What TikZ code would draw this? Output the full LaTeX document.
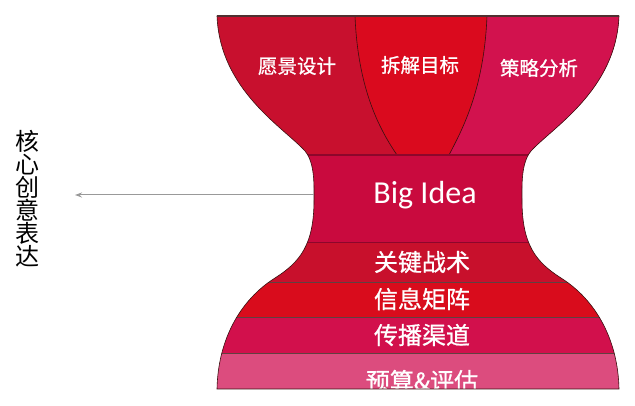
\documentclass[tikz,border=0pt]{standalone}
\usepackage{fontspec}
\setmainfont{Carlito}
\newfontfamily\cjk{Noto Sans CJK SC}
\newfontfamily\cjkb{Noto Sans CJK SC}[FakeBold=0.8]
\usetikzlibrary{arrows.meta}
\definecolor{lobeL}{HTML}{C8102E}
\definecolor{lobeM}{HTML}{DA0A1E}
\definecolor{lobeR}{HTML}{D2124E}
\definecolor{bigc}{HTML}{C90A3E}
\definecolor{bandA}{HTML}{C8102C}
\definecolor{bandB}{HTML}{D90C1C}
\definecolor{bandC}{HTML}{D2104C}
\definecolor{bandD}{HTML}{DC4C7E}
\definecolor{edgec}{HTML}{3A1010}
\tikzset{
  lbl/.style={text=white, font=\cjkb\fontsize{19.5}{20}\selectfont, inner sep=0pt},
  bandlbl/.style={text=white, font=\cjkb\fontsize{24}{24}\selectfont, inner sep=0pt},
  edge/.style={draw=edgec, line width=0.6pt},
  divider/.style={draw=edgec!80, line width=0.6pt},
}
\begin{document}
\begin{tikzpicture}[x=1pt,y=-1pt]
\useasboundingbox (0,0) rectangle (635,406);
\fill[white] (0,0) rectangle (635,406);
\def\outline{(217,16) .. controls (220,90) and (283,127) .. (305,151)
  .. controls (315,163) and (314,185) .. (314,200)
  .. controls (314,245) and (300,262) .. (275,278)
  .. controls (240,300) and (218,340) .. (217,389)
  -- (619,389)
  .. controls (618,340) and (596,300) .. (561,278)
  .. controls (536,262) and (522,245) .. (522,200)
  .. controls (522,185) and (521,163) .. (531,151)
  .. controls (553,127) and (616,90) .. (619,16) -- cycle}
\begin{scope}
  \clip \outline;
  % top lobes
  \fill[lobeL] (200,10) rectangle (640,155);
  \fill[lobeR] (487,16) .. controls (484,90) and (462,130) .. (449,155) -- (640,155) -- (640,10) -- (487,10) -- cycle;
  \fill[lobeM] (355,16) .. controls (358,90) and (380,130) .. (397,155) -- (449,155) .. controls (462,130) and (484,90) .. (487,16) -- cycle;
  \draw[edge] (355,16) .. controls (358,90) and (380,130) .. (397,155);
  \draw[edge] (487,16) .. controls (484,90) and (462,130) .. (449,155);
  % bands
  \fill[bigc]  (200,155) rectangle (640,243);
  \fill[bandA] (200,243) rectangle (640,282);
  \fill[bandB] (200,282) rectangle (640,317);
  \fill[bandC] (200,317) rectangle (640,353);
  \fill[bandD] (200,353) rectangle (640,389);
  \draw[divider, line width=1.2pt, draw=bigc!70!black] (200,155) -- (640,155);
  \draw[divider, line width=1pt, draw=bigc!70!black] (200,243) -- (640,243);
  \draw[divider] (200,282) -- (640,282);
  \draw[divider] (200,317) -- (640,317);
  \draw[divider] (200,353) -- (640,353);
  % labels
  \node[lbl] (vision) at (297,66) {愿景设计};
  \node[lbl] (goal) at (420,65) {拆解目标};
  \node[lbl] (strategy) at (539,68) {策略分析};
  \node[text=white, font=\fontsize{32}{32}\selectfont, inner sep=0pt] (big) at (425,195) {Big Idea};
  \node[bandlbl] (tactic) at (422,262) {关键战术};
  \node[bandlbl] (matrix) at (422,299) {信息矩阵};
  \node[bandlbl] (channel) at (422,335) {传播渠道};
  \node[bandlbl] (budget) at (422,381) {预算\&评估};
\end{scope}
\draw[edge] \outline;
\draw[draw=edgec!70!gray, line width=1.5pt] (217,16) -- (619,16);
% left text and arrow
\node[font=\cjk\fontsize{24}{23}\selectfont, align=center, inner sep=0pt, text=black] (core) at (28,199) {核\\心\\创\\意\\表\\达};
\coordinate (waist) at (314,195);
\coordinate (tipend) at (75,195);
\draw[draw=gray!80, line width=1pt, -{Stealth[length=7pt,width=5pt]}] (waist) -- (tipend);
\end{tikzpicture}
\end{document}
